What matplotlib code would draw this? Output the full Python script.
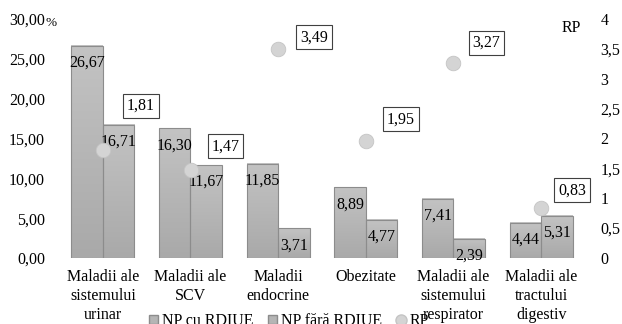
import matplotlib
matplotlib.use('Agg')
import numpy as np
import matplotlib.pyplot as plt
from matplotlib.lines import Line2D
from matplotlib.patches import Patch
from matplotlib.colors import LinearSegmentedColormap

plt.rcParams['font.family'] = ['Liberation Serif', 'DejaVu Serif']
plt.rcParams['font.size'] = 11.5

categories = ['Maladii ale\nsistemului\nurinar', 'Maladii ale\nSCV', 'Maladii\nendocrine',
              'Obezitate', 'Maladii ale\nsistemului\nrespirator', 'Maladii ale\ntractului\ndigestiv']
np_cu = [26.67, 16.30, 11.85, 8.89, 7.41, 4.44]
np_fara = [16.71, 11.67, 3.71, 4.77, 2.39, 5.31]
rp = [1.81, 1.47, 3.49, 1.95, 3.27, 0.83]

def fmt(v, d=2):
    s = ('%.' + str(d) + 'f') % v
    return s.replace('.', ',')

fig = plt.figure(figsize=(6.22, 3.24), dpi=100)
ax = fig.add_axes([59/622, 66/324, 526/622, 239/324])
ax2 = ax.twinx()

x = np.arange(len(categories))
w = 0.36
bar_face = '#b5b5b5'
bar_edge = '#8c8c8c'
grad = LinearSegmentedColormap.from_list('bargrad', ['#a9a9a9', '#c3c3c3'])
b1 = ax.bar(x - w/2, np_cu, w, color='none', edgecolor=bar_edge, lw=0.8, zorder=3)
b2 = ax.bar(x + w/2, np_fara, w, color='none', edgecolor=bar_edge, lw=0.8, zorder=3)

# light-to-dark fill inside each bar
g = np.linspace(0, 1, 100).reshape(-1, 1)
for r in list(b1) + list(b2):
    x0 = r.get_x()
    ax.imshow(g, extent=[x0, x0 + r.get_width(), 0, r.get_height()], origin='lower',
              aspect='auto', cmap=grad, zorder=2, interpolation='bilinear')

for bars, vals in [(b1, np_cu), (b2, np_fara)]:
    for r, v in zip(bars, vals):
        ax.annotate(fmt(v), (r.get_x() + r.get_width()/2, v), xytext=(0, -9),
                    textcoords='offset pixels', ha='center', va='top', fontsize=11.5, zorder=4)

ax.set_xlim(-0.5, len(categories) - 0.5)
ax.set_ylim(0, 30)
ax.set_yticks(np.arange(0, 31, 5))
ax.set_yticklabels([fmt(t) for t in np.arange(0, 31, 5)])
ax.set_xticks(x)
ax.set_xticklabels(categories, linespacing=1.25)
ax.tick_params(length=0, pad=10)
ax.tick_params(axis='x', pad=8)
for s in ax.spines.values():
    s.set_visible(False)
for s in ax2.spines.values():
    s.set_visible(False)
fig.text(45/622, 1 - 23/324, '%', fontsize=9.5, va='center', ha='left')

# RP on the secondary axis
ax2.scatter(x, rp, s=110, color='#d4d4d4', edgecolors='#c4c4c4', lw=0.6, zorder=3)
ax2.set_ylim(0, 4)
ax2.set_yticks(np.arange(0, 4.01, 0.5))
ax2.set_yticklabels(['0', '0,5', '1', '1,5', '2', '2,5', '3', '3,5', '4'])
ax2.tick_params(length=0, pad=11)
for lab in ax2.get_yticklabels():
    lab.set_horizontalalignment('left')

label_off = [(38, 44), (35, 24), (36, 12), (35, 22), (33, 20), (31, 18)]
for xi, v, (dx, dy) in zip(x, rp, label_off):
    ax2.annotate(fmt(v), (xi, v), xytext=(dx, dy), textcoords='offset pixels',
                 ha='center', va='center', fontsize=11.5,
                 bbox=dict(boxstyle='square,pad=0.25', fc='white', ec='#404040', lw=0.8))

fig.text(571/622, 1 - 28/324, 'RP', ha='center', va='center', fontsize=11.5)

handles = [Patch(facecolor=bar_face, edgecolor=bar_edge, label='NP cu RDIUE'),
           Patch(facecolor=bar_face, edgecolor=bar_edge, label='NP fără RDIUE'),
           Line2D([], [], marker='o', ls='', markersize=8, markerfacecolor='#d4d4d4',
                  markeredgecolor='#c4c4c4', label='RP')]
fig.legend(handles=handles, loc='center', bbox_to_anchor=(289/622, 1 - 321/324), ncol=3,
           frameon=False, handlelength=0.55, handleheight=0.55, handletextpad=0.25,
           columnspacing=0.9, fontsize=11.5)

fig.savefig('out.png', dpi=100)
